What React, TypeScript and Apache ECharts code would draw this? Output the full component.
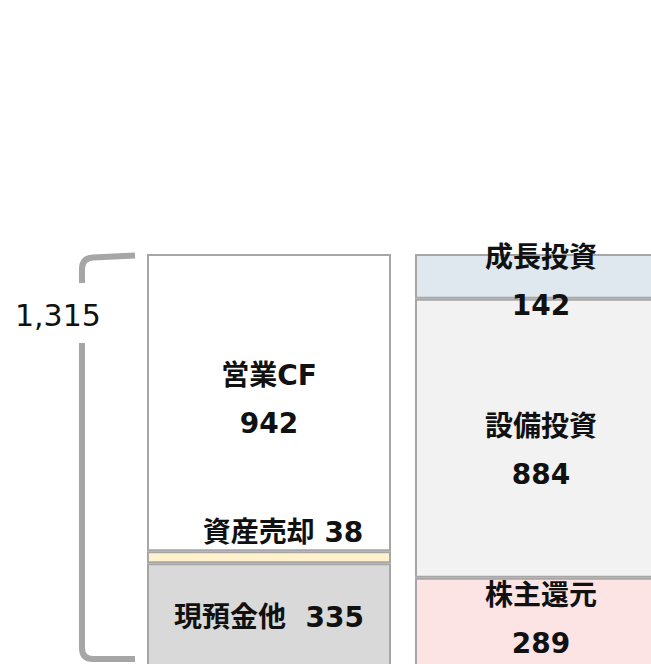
import React, { useEffect, useRef } from "react";
import * as echarts from "echarts";

const categories = ["資金源", "配分"];
const leftNames = ["現預金他", "資産売却", "営業CF"];
const leftValues = [335, 38, 942];
const rightNames = ["株主還元", "設備投資", "成長投資"];
const rightValues = [289, 884, 142];
const leftColors = ["#d9d9d9", "#fff2cc", "#ffffff"];
const rightColors = ["#fce4e5", "#f2f2f2", "#dfe8ef"];

const total = leftValues.reduce((a, b) => a + b, 0);
const totalLabel = total.toLocaleString("en-US");

const FONT = "'DejaVu Sans', 'Noto Sans CJK JP', sans-serif";

let registered = false;
function registerShapes() {
  if (registered) return;
  registered = true;
  echarts.graphic.registerShape(
    "bracketTop",
    echarts.graphic.extendPath("M135 255.5 L93 257.5 Q82 258 82 269 L82 283", {}) as any
  );
  echarts.graphic.registerShape(
    "bracketBottom",
    echarts.graphic.extendPath("M82 343 L82 648 Q82 659 93 659 L135 659", {}) as any
  );
}

// label settings per level: [left, right]
const labelCfg: any[][] = [
  [
    { formatter: leftNames[0] + "  " + leftValues[0], position: "inside", offset: [0, 1] },
    { formatter: rightNames[0] + "\n" + rightValues[0], position: "inside", offset: [4, -4] },
  ],
  [
    {
      formatter: leftNames[1] + " " + leftValues[1],
      position: "top",
      distance: 5,
      offset: [14, 0],
      lineHeight: 28,
    },
    { formatter: rightNames[1] + "\n" + rightValues[1], position: "inside", offset: [4, 12] },
  ],
  [
    { formatter: leftNames[2] + "\n" + leftValues[2], position: "inside", offset: [0, -3] },
    { formatter: rightNames[2] + "\n" + rightValues[2], position: "inside", offset: [4, 5] },
  ],
];

export default function App() {
  const ref = useRef<HTMLDivElement>(null);
  useEffect(() => {
    if (!ref.current) return;
    registerShapes();
    const chart = echarts.init(ref.current, undefined, { renderer: "svg" });
    const series = [0, 1, 2].map((lvl) => ({
      type: "bar",
      stack: "total",
      barWidth: 244,
      data: [
        {
          value: leftValues[lvl],
          name: leftNames[lvl],
          itemStyle: { color: leftColors[lvl] },
          label: { show: true, ...labelCfg[lvl][0] },
        },
        {
          value: rightValues[lvl],
          name: rightNames[lvl],
          itemStyle: { color: rightColors[lvl] },
          label: { show: true, ...labelCfg[lvl][1] },
        },
      ],
      itemStyle: { borderColor: "#a6a6a6", borderWidth: 2 },
      label: {
        color: "#111111",
        fontSize: 28,
        fontWeight: "bold",
        fontFamily: FONT,
        lineHeight: 48,
      },
      emphasis: { disabled: true },
    }));
    chart.setOption({
      animation: false,
      backgroundColor: "#ffffff",
      grid: {
        left: 135,
        width: 536,
        top: 254,
        bottom: -5,
        containLabel: false,
        outerBoundsMode: "none",
      },
      xAxis: {
        type: "category",
        data: categories,
        show: false,
      },
      yAxis: {
        type: "value",
        min: 0,
        max: total,
        show: false,
      },
      series,
      graphic: [
        {
          type: "bracketTop",
          x: 0,
          y: 0,
          style: { stroke: "#a6a6a6", lineWidth: 6, fill: "none" },
        },
        {
          type: "bracketBottom",
          x: 0,
          y: 0,
          style: { stroke: "#a6a6a6", lineWidth: 6, fill: "none" },
        },
        {
          type: "text",
          x: 15,
          y: 315,
          style: {
            text: totalLabel,
            fill: "#111111",
            fontSize: 30,
            fontFamily: "'DejaVu Sans', sans-serif",
            verticalAlign: "middle",
            align: "left",
          },
        },
      ],
    } as any);
    return () => chart.dispose();
  }, []);
  return (
    <div
      ref={ref}
      style={{ position: "fixed", left: 0, top: 0, width: 651, height: 664 }}
    />
  );
}
